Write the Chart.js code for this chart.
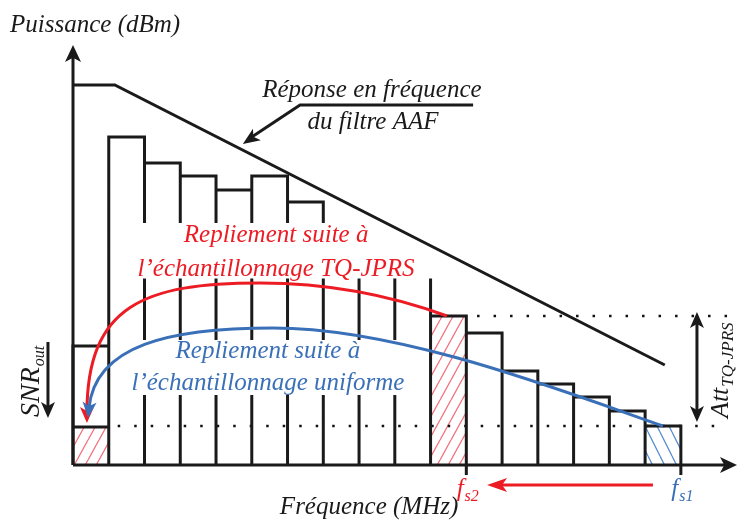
<!DOCTYPE html>
<html>
<head>
<meta charset="utf-8">
<script src="https://cdn.jsdelivr.net/npm/chart.js@4.4.0/dist/chart.umd.min.js"></script>
<style>
  html, body { margin: 0; padding: 0; background: #fff; }
  #wrap { width: 738px; height: 528px; }
</style>
</head>
<body>
<div id="wrap"><canvas id="spectre"></canvas></div>
<script>
// raies du spectre (centre de chaque bin de fréquence)
const bins = [0.5, 1.5, 2.5, 3.5, 4.5, 5.5, 6.5, 7.5, 8.5, 9.5, 10.5, 11.5, 12.5, 13.5, 14.5, 15.5, 16.5];
const puissance = [11.9, 32.8, 30.2, 28.9, 27.5, 28.9, 26.3, 23.0, 21.5, 20.0, 14.9, 13.2, 9.4, 8.1, 6.8, 5.4, 3.9];

// parties repliées (hachurées)
const repliTQX = [0.5, 10.5];
const repliTQY = [3.8, 14.9];
const repliUniX = [16.5];
const repliUniY = [3.9];

// réponse du filtre AAF
const filtreX = [0, 1.17, 16.55];
const filtreY = [38, 38, 10];

// fréquences d'échantillonnage
const fsPos = [11, 17];
const fsNoms = ["s2", "s1"];

const ROUGE = "#ec1c24";
const BLEU = "#3a70b8";
const POLICE = '"Liberation Serif", "DejaVu Serif", serif';

const canvas = document.getElementById("spectre");
const ctx0 = canvas.getContext("2d");

function hachures(couleur, w, h, sens) {
  const c = document.createElement("canvas");
  c.width = w;
  c.height = h;
  const g = c.getContext("2d");
  g.strokeStyle = couleur;
  g.lineWidth = 1.3;
  g.beginPath();
  for (const dx of [-w, 0, w]) {
    if (sens > 0) {
      g.moveTo(dx, h);
      g.lineTo(dx + w, 0);
    } else {
      g.moveTo(dx, 0);
      g.lineTo(dx + w, h);
    }
  }
  g.stroke();
  return ctx0.createPattern(c, "repeat");
}

function fleche(ctx, x, y, ang, long, larg) {
  const c = Math.cos(ang), s = Math.sin(ang);
  ctx.beginPath();
  ctx.moveTo(x, y);
  ctx.lineTo(x - long * c + larg * s, y - long * s - larg * c);
  ctx.lineTo(x - 0.75 * long * c, y - 0.75 * long * s);
  ctx.lineTo(x - long * c - larg * s, y - long * s + larg * c);
  ctx.closePath();
  ctx.fill();
}

// courbe de Bézier en deux segments, en unités des données
function arc(ctx, chart, segs, couleur) {
  const X = (v) => chart.scales.x.getPixelForValue(v);
  const Y = (v) => chart.scales.y.getPixelForValue(v);
  const pts = segs.map((seg) => seg.map(([a, b]) => [X(a), Y(b)]));
  const last = pts[pts.length - 1];
  const tip = last[3], c2 = last[2];
  const ang = Math.atan2(tip[1] - c2[1], tip[0] - c2[0]);
  const stop = [tip[0] - 10 * Math.cos(ang), tip[1] - 10 * Math.sin(ang)];
  ctx.save();
  ctx.strokeStyle = couleur;
  ctx.fillStyle = couleur;
  ctx.lineWidth = 3;
  ctx.beginPath();
  ctx.moveTo(pts[0][0][0], pts[0][0][1]);
  pts.forEach((p, i) => {
    const end = i === pts.length - 1 ? stop : p[3];
    ctx.bezierCurveTo(p[1][0], p[1][1], p[2][0], p[2][1], end[0], end[1]);
  });
  ctx.stroke();
  fleche(ctx, tip[0], tip[1], ang, 16, 7);
  ctx.restore();
}

function texteIndice(ctx, x, y, base, indice, taille, tailleInd, couleur, rot) {
  ctx.save();
  ctx.translate(x, y);
  if (rot) ctx.rotate(-Math.PI / 2);
  ctx.fillStyle = couleur;
  ctx.textAlign = "left";
  ctx.textBaseline = "alphabetic";
  ctx.font = `italic ${taille}px ${POLICE}`;
  const w = ctx.measureText(base).width;
  ctx.fillText(base, 0, 0);
  ctx.font = `italic ${tailleInd}px ${POLICE}`;
  ctx.fillText(indice, w + 1, 5);
  ctx.restore();
}

const decor = {
  id: "decor",
  beforeDatasetDraw(chart, args) {
    if (args.index !== 0) return;
    const ctx = chart.ctx;
    const X = (v) => chart.scales.x.getPixelForValue(v);
    const Y = (v) => chart.scales.y.getPixelForValue(v);

    // lignes pointillées
    ctx.save();
    ctx.strokeStyle = "#111";
    ctx.lineWidth = 2.5;
    ctx.setLineDash([2.5, 14]);
    ctx.beginPath();
    ctx.moveTo(X(11.3), Y(repliTQY[1]));
    ctx.lineTo(X(18.32), Y(repliTQY[1]));
    ctx.moveTo(X(1.25), Y(repliUniY[0]));
    ctx.lineTo(X(18.32), Y(repliUniY[0]));
    ctx.stroke();
    ctx.restore();

    // contours des raies
    ctx.save();
    ctx.strokeStyle = "#1a1a1a";
    ctx.lineWidth = 3;
    ctx.lineJoin = "miter";
    ctx.beginPath();
    [1, 2, 3].forEach((di) => {
      chart.getDatasetMeta(di).data.forEach((bar) => {
        const p = bar.getProps(["x", "y", "base", "width"], true);
        const l = p.x - p.width / 2, r = p.x + p.width / 2;
        ctx.moveTo(l, p.base);
        ctx.lineTo(l, p.y);
        ctx.lineTo(r, p.y);
        ctx.lineTo(r, p.base);
      });
    });
    ctx.stroke();
    ctx.restore();

    // fonds blancs sous les légendes des repliements
    ctx.save();
    ctx.fillStyle = "#fff";
    ctx.fillRect(X(1.45), Y(24.2), X(10.14) - X(1.45), Y(18.65) - Y(24.2));
    ctx.fillRect(X(1.31), Y(12.5), X(9.42) - X(1.31), Y(7.0) - Y(12.5));
    ctx.restore();
  },
  afterDraw(chart) {
    const ctx = chart.ctx;
    const area = chart.chartArea;
    const X = (v) => chart.scales.x.getPixelForValue(v);
    const Y = (v) => chart.scales.y.getPixelForValue(v);

    // axes
    ctx.save();
    ctx.strokeStyle = "#1a1a1a";
    ctx.fillStyle = "#1a1a1a";
    ctx.lineWidth = 3;
    ctx.beginPath();
    ctx.moveTo(area.left, area.bottom);
    ctx.lineTo(area.left, area.top + 10);
    ctx.moveTo(area.left, area.bottom);
    ctx.lineTo(area.right - 10, area.bottom);
    fsPos.forEach((f) => {
      ctx.moveTo(X(f), area.bottom);
      ctx.lineTo(X(f), area.bottom + 10);
    });
    ctx.stroke();
    fleche(ctx, area.left, area.top, -Math.PI / 2, 17, 8);
    fleche(ctx, area.right, area.bottom, 0, 17, 8);

    // flèche SNR_out
    ctx.beginPath();
    ctx.moveTo(X(-0.7), Y(12.3));
    ctx.lineTo(X(-0.7), Y(5.5));
    ctx.stroke();
    fleche(ctx, X(-0.7), Y(4.7), Math.PI / 2, 16, 7);

    // double flèche Att
    ctx.beginPath();
    ctx.moveTo(X(17.45), Y(14.5));
    ctx.lineTo(X(17.45), Y(4.8));
    ctx.stroke();
    fleche(ctx, X(17.45), Y(15.3), -Math.PI / 2, 16, 7);
    fleche(ctx, X(17.45), Y(4.3), Math.PI / 2, 16, 7);

    // renvoi vers la réponse du filtre
    ctx.beginPath();
    ctx.moveTo(X(11.19), Y(36.0));
    ctx.lineTo(X(6.35), Y(36.0));
    ctx.lineTo(X(5.0), Y(32.8));
    ctx.stroke();
    const angF = Math.atan2(Y(32.1) - Y(36.0), X(4.75) - X(6.35));
    fleche(ctx, X(4.75), Y(32.1), angF, 17, 7);
    ctx.restore();

    // flèche rouge fs1 -> fs2
    ctx.save();
    ctx.strokeStyle = ROUGE;
    ctx.fillStyle = ROUGE;
    ctx.lineWidth = 3;
    ctx.beginPath();
    ctx.moveTo(X(16.22), Y(-2.0));
    ctx.lineTo(X(11.9), Y(-2.0));
    ctx.stroke();
    fleche(ctx, X(11.58), Y(-2.0), Math.PI, 20, 7);
    ctx.restore();

    // arcs de repliement
    arc(ctx, chart, [
      [[10.46, 14.9], [8.86, 17.0], [7.19, 18.2], [5.23, 18.2]],
      [[5.23, 18.2], [2.0, 18.2], [0.39, 16.0], [0.39, 4.2]],
    ], ROUGE);
    arc(ctx, chart, [
      [[16.5, 3.9], [13.62, 7.5], [9.14, 13.7], [5.59, 13.7]],
      [[5.59, 13.7], [2.71, 13.7], [0.62, 12.0], [0.42, 4.7]],
    ], BLEU);

    // textes
    ctx.save();
    ctx.textBaseline = "alphabetic";
    ctx.font = `italic 25px ${POLICE}`;
    ctx.fillStyle = "#1a1a1a";
    ctx.textAlign = "left";
    ctx.fillText("Puissance (dBm)", X(-1.76), Y(43.3));
    ctx.textAlign = "center";
    ctx.fillText("Fréquence (MHz)", X(8.28), Y(-4.9));
    ctx.fillText("Réponse en fréquence", X(8.36), Y(36.8));
    ctx.fillText("du filtre AAF", X(8.39), Y(33.6));
    ctx.fillStyle = ROUGE;
    ctx.fillText("Repliement suite à", X(5.68), Y(22.3));
    ctx.fillText("l’échantillonnage TQ-JPRS", X(5.68), Y(18.9));
    ctx.fillStyle = BLEU;
    ctx.fillText("Repliement suite à", X(5.45), Y(10.7));
    ctx.fillText("l’échantillonnage uniforme", X(5.45), Y(7.5));
    ctx.restore();

    texteIndice(ctx, X(10.73), Y(-3.1), "f", fsNoms[0], 25, 16, ROUGE, false);
    texteIndice(ctx, X(16.73), Y(-3.1), "f", fsNoms[1], 25, 16, BLEU, false);
    texteIndice(ctx, X(-0.95), Y(4.8), "SNR", "out", 28, 16, "#1a1a1a", true);
    texteIndice(ctx, X(18.32), Y(4.7), "Att", "TQ-JPRS", 26, 17, "#1a1a1a", true);
  },
};

new Chart(canvas, {
  type: "bar",
  data: {
    datasets: [
      {
        type: "line",
        data: filtreX.map((x, i) => ({ x, y: filtreY[i] })),
        borderColor: "#1a1a1a",
        borderWidth: 3,
        pointRadius: 0,
        tension: 0,
        fill: false,
        order: 0,
      },
      {
        data: bins.map((x, i) => ({ x, y: puissance[i] })),
        backgroundColor: "rgba(0,0,0,0)",
        borderWidth: 0,
        grouped: false,
        order: 1,
      },
      {
        data: repliTQX.map((x, i) => ({ x, y: repliTQY[i] })),
        backgroundColor: hachures("#f2707c", 11, 20, 1),
        borderWidth: 0,
        grouped: false,
        order: 2,
      },
      {
        data: repliUniX.map((x, i) => ({ x, y: repliUniY[i] })),
        backgroundColor: hachures("#5b8fd2", 12, 24, -1),
        borderWidth: 0,
        grouped: false,
        order: 2,
      },
    ],
  },
  options: {
    responsive: true,
    maintainAspectRatio: false,
    animation: false,
    events: [],
    layout: { padding: { left: 73, right: 1, top: 45, bottom: 63 } },
    datasets: {
      bar: { barPercentage: 1, categoryPercentage: 1, inflateAmount: 0 },
    },
    plugins: { legend: { display: false }, tooltip: { enabled: false } },
    scales: {
      x: { type: "linear", min: 0, max: 18.57, offset: false, display: false },
      y: { type: "linear", min: 0, max: 42, display: false },
    },
  },
  plugins: [decor],
});
</script>
</body>
</html>
